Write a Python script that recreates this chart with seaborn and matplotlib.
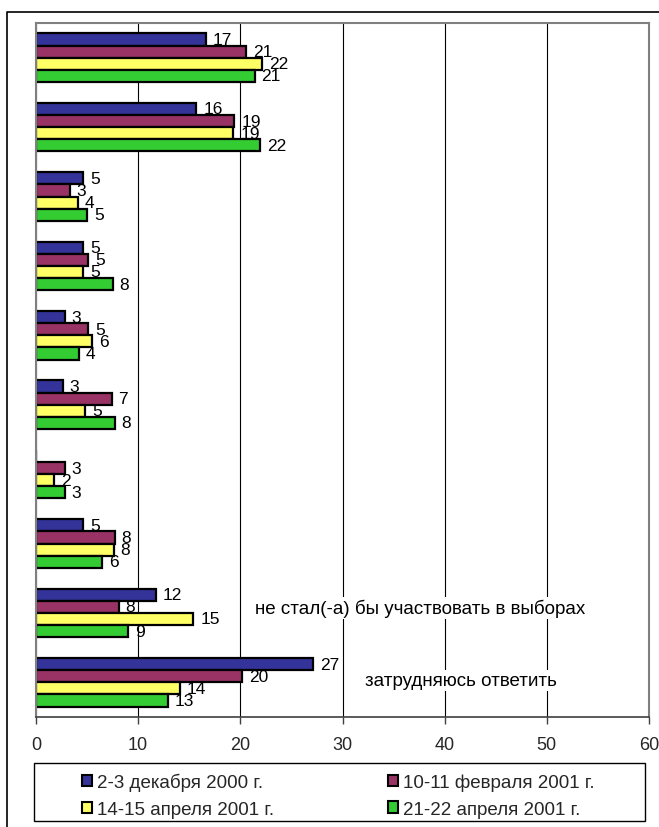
import matplotlib
matplotlib.use("Agg")
import matplotlib.pyplot as plt
import seaborn as sns
import pandas as pd
from matplotlib.patches import Rectangle, Patch
from matplotlib.lines import Line2D

# Survey waves (series)
periods = ["2-3 декабря 2000 г.", "10-11 февраля 2001 г.",
           "14-15 апреля 2001 г.", "21-22 апреля 2001 г."]
colors = ["#333399", "#993366", "#FFFF66", "#33CC33"]

# Answer groups, top to bottom
categories = ["1", "2", "3", "4", "5", "6", "7", "8", "9", "10"]

# Share of respondents, %, per wave
wave_dec = [16.6, 15.7, 4.6, 4.6, 2.8, 2.6, 0.0, 4.6, 11.7, 27.1]
wave_feb = [20.6, 19.4, 3.3, 5.1, 5.1, 7.4, 2.8, 7.7, 8.1, 20.2]
wave_apr1 = [22.1, 19.3, 4.1, 4.6, 5.5, 4.8, 1.8, 7.6, 15.4, 14.1]
wave_apr2 = [21.4, 21.9, 5.0, 7.5, 4.2, 7.7, 2.8, 6.5, 9.0, 12.9]

# Answer captions shown inside the plot area
note_texts = ["не стал(-а) бы участвовать в выборах", "затрудняюсь ответить"]
note_x = [37.6, 41.6]
note_y = [7.93, 8.97]

xticks = [0, 10, 20, 30, 40, 50, 60]

series = [wave_dec, wave_feb, wave_apr1, wave_apr2]
df = pd.DataFrame({
    "answer": [c for _ in periods for c in categories],
    "period": [p for p in periods for _ in categories],
    "value": [v for s in series for v in s],
})

sns.set_theme(style="white")
plt.rcParams["font.family"] = ["Liberation Sans", "DejaVu Sans"]

fig = plt.figure(figsize=(6.59, 8.28), dpi=100)
ax = fig.add_axes([36 / 659, 110 / 828, 613 / 659, 694 / 828])

sns.barplot(data=df, y="answer", x="value", hue="period", order=categories,
            hue_order=periods, palette=colors, orient="h", width=0.7,
            edgecolor="black", linewidth=1.6, errorbar=None, legend=False,
            saturation=1, ax=ax)

for cont, vals in zip(ax.containers, series):
    labels = ["" if v == 0 else f"{v:.0f}" for v in vals]
    ax.bar_label(cont, labels=labels, padding=5, fontsize=12.5, color="black")

for txt, xx, yy in zip(note_texts, note_x, note_y):
    ax.text(xx, yy, txt, ha="center", va="center", fontsize=13.5,
            color="black", zorder=5,
            bbox=dict(facecolor="white", edgecolor="none", pad=1.5))

ax.set_xlim(0, 60)
ax.set_ylim(9.5, -0.5)
ax.set_xticks(xticks)
ax.set_xticklabels([str(t) for t in xticks], fontsize=13)
ax.set_yticks([])
ax.set_xlabel("")
ax.set_ylabel("")
ax.xaxis.grid(True, color="black", linewidth=0.8)
ax.set_axisbelow(True)
ax.tick_params(axis="x", direction="out", length=5, width=1, color="#404040",
               pad=9, bottom=True)
for side in ["top", "left", "right"]:
    ax.spines[side].set_color("#808080")
    ax.spines[side].set_linewidth(1.5)
ax.spines["bottom"].set_color("#404040")
ax.spines["bottom"].set_linewidth(1.2)

# Legend: frame box plus two columns of entries (row-wise order)
fig.add_artist(Rectangle((34 / 659, 6 / 828), 611 / 659, 58 / 828,
                         transform=fig.transFigure, facecolor="white",
                         edgecolor="black", linewidth=1.0))
handles = [Patch(facecolor=c, edgecolor="black", linewidth=1.5) for c in colors]
col_x = [82 / 659, 388 / 659]
for k in range(2):
    idx = [k, k + 2]
    fig.legend([handles[i] for i in idx], [periods[i] for i in idx],
               loc="center left", bbox_to_anchor=(col_x[k], 1 - 796.5 / 828),
               fontsize=13.5, frameon=False, handlelength=0.55,
               handleheight=0.55, handletextpad=0.25, borderaxespad=0,
               borderpad=0, labelspacing=0.52)

# Outer chart frame (left and top edges)
fig.add_artist(Line2D([7 / 659, 7 / 659, 1.0], [0.0, 1 - 13 / 828, 1 - 13 / 828],
                      transform=fig.transFigure, color="black", linewidth=1.2))

fig.savefig("out.png", dpi=100, facecolor="white")
